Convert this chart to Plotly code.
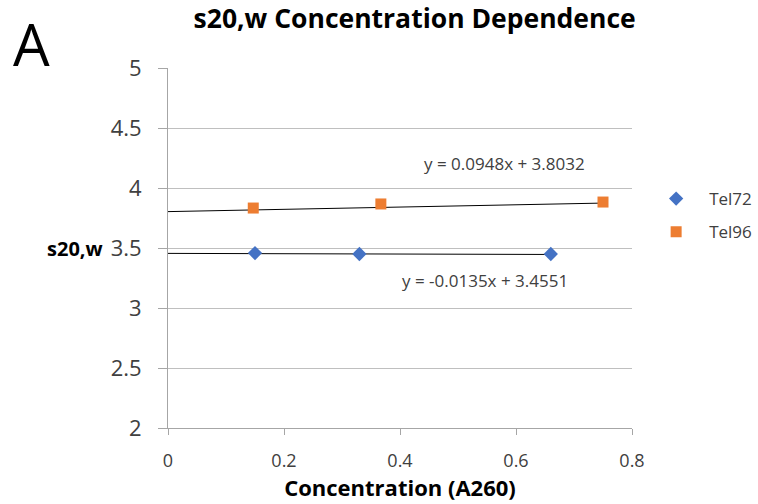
import plotly.graph_objects as go

tel72_x = [0.15, 0.33, 0.66]
tel72_y = [3.458, 3.45, 3.45]
tel96_x = [0.147, 0.367, 0.75]
tel96_y = [3.833, 3.867, 3.883]

fit72 = (-0.0135, 3.4551)
fit96 = (0.0948, 3.8032)
eq72 = "y = -0.0135x + 3.4551"
eq96 = "y = 0.0948x + 3.8032"

x_ticks = [0, 0.2, 0.4, 0.6, 0.8]
y_ticks = [2, 2.5, 3, 3.5, 4, 4.5, 5]

FONT = "Open Sans, Lato, sans-serif"

fig = go.Figure()

# trendlines (from 0 to max x)
for (m, b), xs in [(fit72, tel72_x), (fit96, tel96_x)]:
    x0, x1 = 0, max(xs)
    fig.add_trace(go.Scatter(x=[x0, x1], y=[m * x0 + b, m * x1 + b], mode="lines",
                             line=dict(color="black", width=1), showlegend=False,
                             hoverinfo="skip"))

fig.add_trace(go.Scatter(x=tel72_x, y=tel72_y, mode="markers", name="Tel72",
                         legendgroup="a",
                         marker=dict(symbol="diamond", size=11, color="#4472C4")))
fig.add_trace(go.Scatter(x=tel96_x, y=tel96_y, mode="markers", name="Tel96",
                         legendgroup="b",
                         marker=dict(symbol="square", size=11, color="#ED7D31")))

fig.update_layout(
    width=758, height=504,
    margin=dict(l=168, r=126, t=68, b=76, autoexpand=False),
    paper_bgcolor="white", plot_bgcolor="white",
    font=dict(family=FONT, color="#404040"),
    title=dict(text="<b>s20,w Concentration Dependence</b>", x=0.547, xanchor="center",
               y=0.962, yanchor="middle", font=dict(size=26.5, color="black", family=FONT)),
    xaxis=dict(range=[0, 0.8], tickvals=x_ticks, ticktext=[str(v) for v in x_ticks],
               showgrid=False, zeroline=False, showline=True, linecolor="#A6A6A6",
               linewidth=1, ticks="outside", ticklen=6, tickcolor="#A6A6A6",
               ticklabelstandoff=10,
               tickfont=dict(size=18, color="#404040"),
               title=dict(text="<b>Concentration (A260)</b>", standoff=10,
                          font=dict(size=22, color="black"))),
    yaxis=dict(range=[2, 5], tickvals=y_ticks, ticktext=[str(v) for v in y_ticks],
               showgrid=True, gridcolor="#BFBFBF", gridwidth=1, zeroline=False,
               showline=True, linecolor="#A6A6A6", linewidth=1, ticks="outside",
               ticklen=9, tickcolor="#A6A6A6", ticklabelstandoff=12,
               tickfont=dict(size=22, color="#404040")),
    legend=dict(x=1.024, y=0.686, xanchor="left", yanchor="top", itemwidth=56,
                font=dict(size=17, color="#404040"), tracegroupgap=8,
                bgcolor="rgba(0,0,0,0)"),
    showlegend=True,
)

fig.add_annotation(text="A", xref="paper", yref="paper", x=-0.295, y=1.067,
                   xanchor="center", yanchor="middle", showarrow=False,
                   font=dict(size=58, color="black", family=FONT))
fig.add_annotation(text="<b>s20,w</b>", xref="paper", yref="y", x=-0.135, y=3.5,
                   xanchor="right", yanchor="middle", showarrow=False,
                   font=dict(size=20, color="black", family=FONT))
fig.add_annotation(text=eq96, xref="x", yref="y", x=0.581, y=4.208,
                   showarrow=False, font=dict(size=17, color="#404040", family=FONT))
fig.add_annotation(text=eq72, xref="x", yref="y", x=0.547, y=3.233,
                   showarrow=False, font=dict(size=17, color="#404040", family=FONT))

fig.write_html("out.html")
